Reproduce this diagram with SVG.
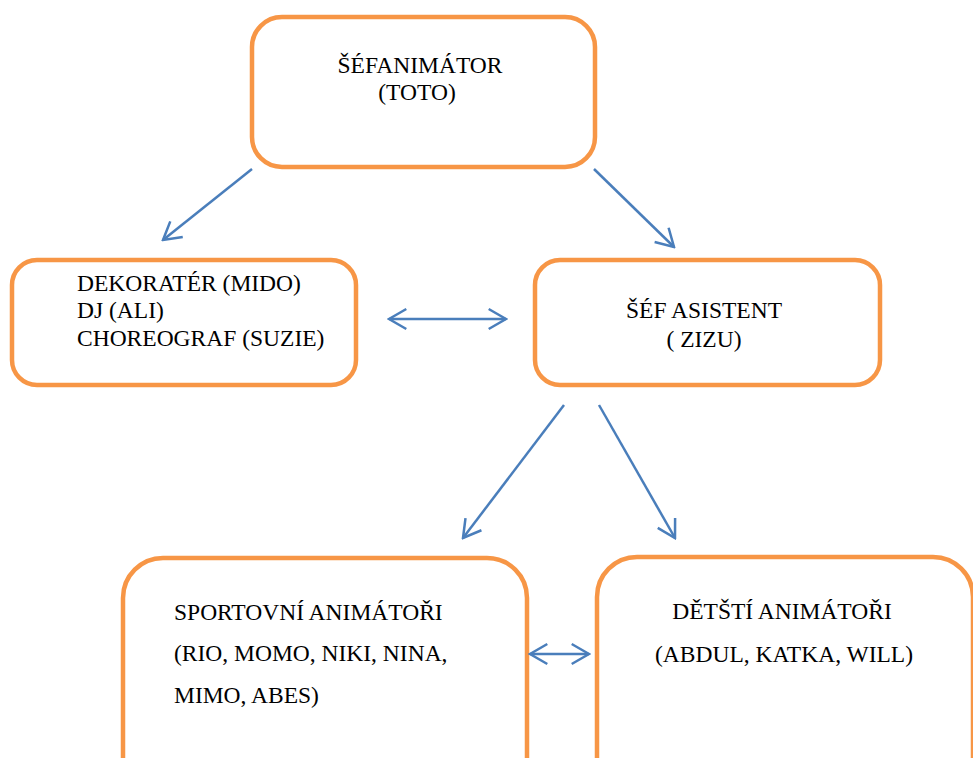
<svg xmlns="http://www.w3.org/2000/svg" width="973" height="758" viewBox="0 0 973 758">
<style>
.box{fill:#fff;stroke:#F79646;stroke-width:4.5}
.c{text-anchor:middle}
.con{stroke:#4A7EBB;stroke-width:2.5;fill:none}
</style>
<defs>
<marker id="ah" viewBox="-20 -12 22 24" refX="0" refY="0" markerWidth="22" markerHeight="24" markerUnits="userSpaceOnUse" orient="auto-start-reverse">
<path d="M-17.3,-10 L0,0 L-17.3,10" fill="none" stroke="#4A7EBB" stroke-width="2.5"/>
</marker>
</defs>
<rect width="973" height="758" fill="#fff"/>
<g font-family="Liberation Serif, Times New Roman, DejaVu Serif, serif" font-size="23.5" fill="#000">
<g id="sefanimator">
<rect class="box" x="252" y="17" width="343" height="150" rx="30"/>
<text class="c" x="420" y="73">ŠÉFANIMÁTOR</text>
<text class="c" x="417" y="100">(TOTO)</text>
</g>
<g id="dekorater">
<rect class="box" x="12" y="260" width="344" height="125" rx="25"/>
<text x="77" y="291">DEKORATÉR (MIDO)</text>
<text x="77" y="318">DJ (ALI)</text>
<text x="77" y="346">CHOREOGRAF (SUZIE)</text>
</g>
<g id="sefasistent">
<rect class="box" x="535" y="260" width="345" height="125" rx="25"/>
<text class="c" x="704" y="318">ŠÉF ASISTENT</text>
<text class="c" x="704" y="347">( ZIZU)</text>
</g>
<g id="sportovni">
<rect class="box" x="123" y="558" width="404" height="240" rx="40"/>
<text x="174" y="620">SPORTOVNÍ ANIMÁTOŘI</text>
<text x="174" y="661">(RIO, MOMO, NIKI, NINA,</text>
<text x="174" y="703">MIMO, ABES)</text>
</g>
<g id="detsti">
<rect class="box" x="597" y="557" width="376" height="240" rx="40"/>
<text class="c" x="782" y="619">DĚTŠTÍ ANIMÁTOŘI</text>
<text class="c" x="784" y="662">(ABDUL, KATKA, WILL)</text>
</g>
</g>
<g id="connectors">
<line class="con" x1="252" y1="169" x2="163" y2="240" marker-end="url(#ah)"/>
<line class="con" x1="594" y1="169" x2="674" y2="247" marker-end="url(#ah)"/>
<line class="con" x1="389" y1="319" x2="506" y2="319" marker-start="url(#ah)" marker-end="url(#ah)"/>
<line class="con" x1="564" y1="405" x2="463" y2="538" marker-end="url(#ah)"/>
<line class="con" x1="599" y1="405" x2="675" y2="538" marker-end="url(#ah)"/>
<line class="con" x1="530" y1="654" x2="589" y2="654" marker-start="url(#ah)" marker-end="url(#ah)"/>
</g>
</svg>
